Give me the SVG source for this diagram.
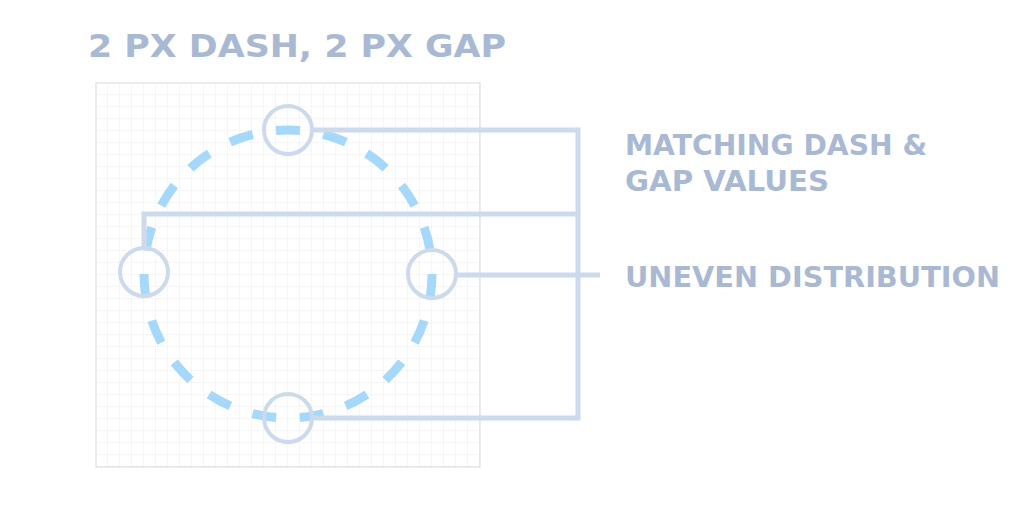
<svg xmlns="http://www.w3.org/2000/svg" width="1034" height="512" viewBox="0 0 1034 512">
<defs>
<pattern id="g" x="96" y="83" width="12" height="12" patternUnits="userSpaceOnUse"><path d="M12 0V12H0" fill="none" stroke="#ececec" stroke-width="1"/></pattern>
</defs>
<style>
.t{font-family:"DejaVu Sans",sans-serif;font-weight:bold;fill:#a9b9d3}
.c{fill:none;stroke:#cddaec;stroke-width:4}
.l{fill:none;stroke:#cddaec;stroke-width:5}
</style>
<rect width="1034" height="512" fill="#fff"/>
<g id="grid"><rect x="96" y="83" width="384" height="384" fill="url(#g)" stroke="#d9d9d9" stroke-width="1"/></g>
<g id="dashed-circle"><circle cx="288" cy="274" r="144" fill="none" stroke="#a6d8fb" stroke-width="9" stroke-dasharray="24 23.6" stroke-dashoffset="12" transform="rotate(-90 288 274)"/></g>
<g id="connectors">
<path class="l" d="M312 130H578V418H312"/>
<path class="l" d="M144 248V214H578"/>
<path class="l" d="M456 275H600"/>
</g>
<g id="markers">
<circle class="c" cx="288" cy="130" r="24"/>
<circle class="c" cx="144" cy="272" r="24"/>
<circle class="c" cx="432" cy="274" r="24"/>
<circle class="c" cx="288" cy="418" r="24"/>
</g>
<g id="title"><text class="t" x="88" y="57" font-size="32" textLength="418" lengthAdjust="spacingAndGlyphs">2 PX DASH, 2 PX GAP</text></g>
<g id="label-matching"><text class="t" x="625" y="155" font-size="28" textLength="302" lengthAdjust="spacingAndGlyphs">MATCHING DASH &amp;</text><text class="t" x="625" y="191" font-size="28" textLength="204" lengthAdjust="spacingAndGlyphs">GAP VALUES</text></g>
<g id="label-uneven"><text class="t" x="625" y="287" font-size="28" textLength="375" lengthAdjust="spacingAndGlyphs">UNEVEN DISTRIBUTION</text></g>
</svg>
